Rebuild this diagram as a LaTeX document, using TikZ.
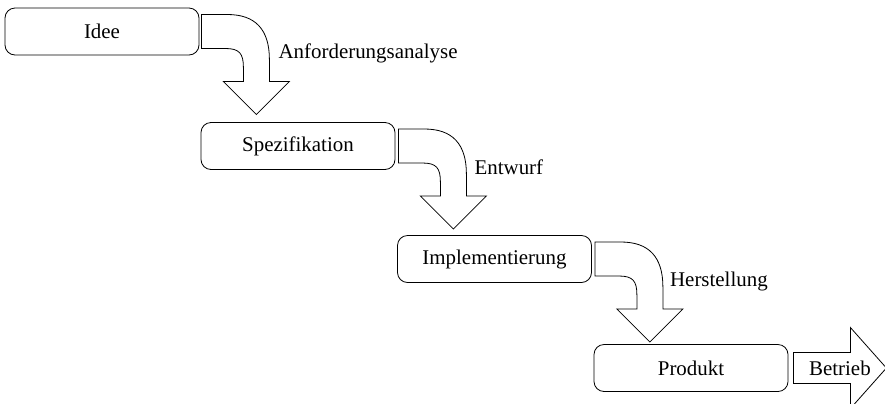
\documentclass[tikz,border=0pt]{standalone}
\usepackage{fontspec}
\setmainfont{Liberation Serif}
\usetikzlibrary{calc}
\begin{document}
\begin{tikzpicture}[x=1bp,y=-1bp,
  stage/.style={draw, rounded corners=10bp, minimum width=194bp, minimum height=47bp,
    line width=0.8bp, font=\fontsize{21}{25}\selectfont},
  flow/.style={draw, line width=0.8bp, fill=white, line join=miter},
  lbl/.style={anchor=west, font=\fontsize{21}{25}\selectfont, inner sep=0pt},
  bentarrow/.pic={
    \draw[flow] (0,-17) -- (26,-17) .. controls (54,-17) and (68,-2) .. (68,28)
      -- (68,50) -- (88,50) -- (55,83) -- (22,50) -- (42,50) -- (42,36)
      .. controls (42,22) and (38,17) .. (24,17) -- (0,17) -- cycle;
  }]
\useasboundingbox (0,0) rectangle (885,403);

% process stages
\node[stage] (idee) at (102,31.5) {Idee};
\node[stage] (spez) at (298,146) {Spezifikation};
\node[stage] (impl) at (494.5,259) {Implementierung};
\node[stage] (prod) at (691,368) {Produkt};

% bent block arrows between the stages
\coordinate (a1) at ([xshift=2bp]idee.east);
\coordinate (a2) at ([xshift=3bp]spez.east);
\coordinate (a3) at ([xshift=3bp]impl.east);
\pic at (a1) {bentarrow};
\pic at (a2) {bentarrow};
\pic at (a3) {bentarrow};

\node[lbl] (l1) at ($(a1)+(77,22)$) {Anforderungsanalyse};
\node[lbl] (l2) at ($(a2)+(76,21)$) {Entwurf};
\node[lbl] (l3) at ($(a3)+(75,22)$) {Herstellung};

% final block arrow
\coordinate (a4) at ([xshift=5bp]prod.east);
\draw[flow] ($(a4)+(0,-15.5)$) -- ($(a4)+(57,-15.5)$) -- ($(a4)+(57,-40.5)$)
  -- ($(a4)+(93,0)$) -- ($(a4)+(57,40.5)$) -- ($(a4)+(57,15.5)$)
  -- ($(a4)+(0,15.5)$) -- cycle;
\node[font=\fontsize{21}{25}\selectfont, inner sep=0pt] (betrieb) at ($(a4)+(46.5,0)$) {Betrieb};
\end{tikzpicture}
\end{document}
